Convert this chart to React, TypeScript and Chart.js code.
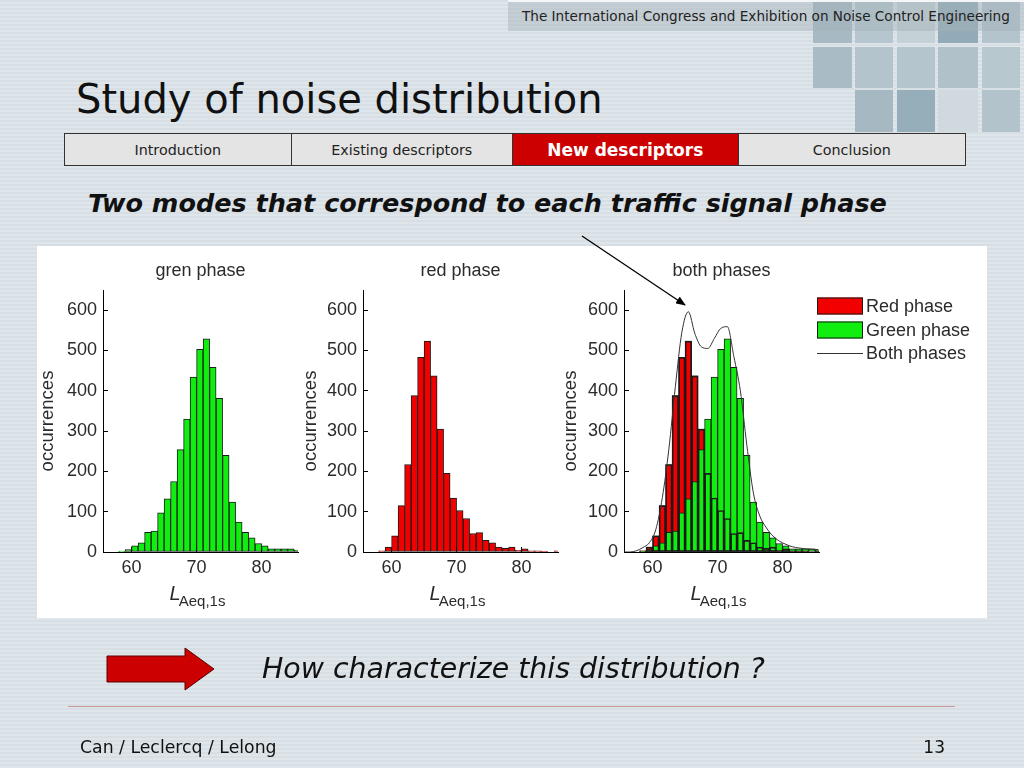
import React, { useEffect, useRef } from "react";
import { Chart, registerables } from "chart.js";

Chart.register(...registerables);

// ---------- data ----------
const BIN_CENTERS = [55.5, 56.5, 57.5, 58.5, 59.5, 60.5, 61.5, 62.5, 63.5, 64.5, 65.5, 66.5, 67.5, 68.5, 69.5, 70.5, 71.5, 72.5, 73.5, 74.5, 75.5, 76.5, 77.5, 78.5, 79.5, 80.5, 81.5, 82.5, 83.5, 84.5, 85.5];
const GREEN_COUNTS = [0, 0, 0, 2, 6, 15, 23, 49, 52, 97, 132, 175, 254, 330, 434, 503, 529, 458, 381, 240, 124, 74, 49, 35, 21, 15, 8, 8, 8, 8, 5];
const RED_COUNTS = [0, 0, 0, 3, 12, 40, 115, 217, 388, 483, 523, 437, 305, 195, 134, 103, 83, 46, 48, 29, 23, 12, 9, 12, 4, 8, 3, 3, 1, 0, 3];
const BOTH_COUNTS = [0, 0, 3, 11, 23, 56, 135, 255, 410, 545, 596, 542, 509, 505, 530, 555, 559, 485, 400, 265, 147, 89, 60, 40, 27, 19, 13, 10, 8, 7, 6];
const X_TICKS = [60, 70, 80];
const Y_TICKS = [0, 100, 200, 300, 400, 500, 600];
const X_MIN = 55.6;
const X_MAX = 85.6;
const Y_MAX = 650;
const PANEL_TITLES = ["gren phase", "red phase", "both phases"];
const LEGEND_LABELS = ["Red phase", "Green phase", "Both phases"];
const Y_TITLE = "occurrences";
const X_LABEL_MAIN = "L";
const X_LABEL_SUB = "Aeq,1s";

const NAV_ITEMS = ["Introduction", "Existing descriptors", "New descriptors", "Conclusion"];
const ACTIVE_NAV = 2;

// ---------- styles ----------
const RED = "#f20000";
const GREEN = "#10ee10";
const EDGE = "#1a1a1a";
const TEXT = "#2b2b2b";
const CHART_FONT = '"Liberation Sans", Arial, sans-serif';
const SLIDE_FONT = '"DejaVu Sans", Verdana, sans-serif';

Chart.defaults.font.family = CHART_FONT;

const xLabelPlugin = {
  id: "xLabel",
  afterDraw(chart: any) {
    const { ctx, chartArea } = chart;
    ctx.save();
    const mainFont = `italic 20px ${CHART_FONT}`;
    const subFont = `15px ${CHART_FONT}`;
    ctx.font = mainFont;
    const w1 = ctx.measureText(X_LABEL_MAIN).width;
    ctx.font = subFont;
    const w2 = ctx.measureText(X_LABEL_SUB).width;
    const cx = (chartArea.left + chartArea.right) / 2;
    const x0 = cx - (w1 + w2) / 2 - 2;
    ctx.fillStyle = TEXT;
    ctx.textBaseline = "alphabetic";
    ctx.textAlign = "left";
    ctx.font = mainFont;
    ctx.fillText(X_LABEL_MAIN, x0, chartArea.bottom + 48);
    ctx.font = subFont;
    ctx.fillText(X_LABEL_SUB, x0 + w1 - 2, chartArea.bottom + 54);
    ctx.restore();
  },
};

const sideLegendPlugin = {
  id: "sideLegend",
  afterDraw(chart: any, _args: any, opts: any) {
    if (!opts || !opts.show) return;
    const { ctx, chartArea } = chart;
    const x0 = chartArea.right - 2;
    const rows = [16, 40, 63];
    const fills = [RED, GREEN, null];
    ctx.save();
    ctx.font = `18px ${CHART_FONT}`;
    ctx.textBaseline = "middle";
    ctx.textAlign = "left";
    LEGEND_LABELS.forEach((label, i) => {
      const cy = chartArea.top + rows[i];
      const f = fills[i];
      if (f) {
        ctx.fillStyle = f;
        ctx.fillRect(x0, cy - 8.5, 46, 17);
        ctx.strokeStyle = EDGE;
        ctx.lineWidth = 1;
        ctx.strokeRect(x0 + 0.5, cy - 8, 45, 16);
      } else {
        ctx.strokeStyle = "#333";
        ctx.lineWidth = 1;
        ctx.beginPath();
        ctx.moveTo(x0, cy + 0.5);
        ctx.lineTo(x0 + 46, cy + 0.5);
        ctx.stroke();
      }
      ctx.fillStyle = TEXT;
      ctx.fillText(label, x0 + 49, cy + 1);
    });
    ctx.restore();
  },
};

function pts(values: number[]) {
  return BIN_CENTERS.map((x, i) => ({ x, y: values[i] }));
}

function buildOptions(title: string, yWidth: number, rightPad: number, showLegend: boolean) {
  return {
    responsive: false,
    animation: false,
    events: [],
    layout: { padding: { left: 0, right: rightPad, top: 0, bottom: 0 } },
    plugins: {
      legend: { display: false },
      tooltip: { enabled: false },
      sideLegend: { show: showLegend },
      title: {
        display: true,
        text: title,
        fullSize: false,
        color: TEXT,
        font: { size: 18, weight: "normal", family: CHART_FONT },
        padding: { top: 14.2, bottom: 8.2 },
      },
    },
    scales: {
      x: {
        type: "linear",
        min: X_MIN,
        max: X_MAX,
        offset: false,
        afterBuildTicks: (s: any) => {
          s.ticks = X_TICKS.map((v) => ({ value: v }));
        },
        afterFit: (s: any) => {
          s.height = 66;
        },
        grid: { display: true, offset: false, drawOnChartArea: false, drawTicks: true, tickLength: -5, color: "#000", lineWidth: 1 },
        border: { display: true, color: "#000", width: 1 },
        ticks: { color: TEXT, font: { size: 18 }, padding: 10, maxRotation: 0, autoSkip: false },
      },
      y: {
        type: "linear",
        min: 0,
        max: Y_MAX,
        afterBuildTicks: (s: any) => {
          s.ticks = Y_TICKS.map((v) => ({ value: v }));
        },
        afterFit: (s: any) => {
          s.width = yWidth;
        },
        grid: { display: true, drawOnChartArea: false, drawTicks: true, tickLength: -5, color: "#000", lineWidth: 1 },
        border: { display: true, color: "#000", width: 1 },
        ticks: { color: TEXT, font: { size: 18 }, padding: 11, autoSkip: false },
        title: { display: true, text: Y_TITLE, color: TEXT, font: { size: 18.5 }, padding: { top: 0, bottom: 0 } },
      },
    },
  };
}

const barBase = {
  type: "bar",
  borderColor: EDGE,
  borderWidth: 1,
  borderSkipped: false,
  barPercentage: 1,
  categoryPercentage: 1,
  grouped: false,
};

function HistPanel(props: { kind: "green" | "red" | "both"; left: number; width: number; yWidth: number; rightPad: number }) {
  const ref = useRef<HTMLCanvasElement | null>(null);
  useEffect(() => {
    if (!ref.current) return;
    let datasets: any[] = [];
    let title = "";
    if (props.kind === "green") {
      title = PANEL_TITLES[0];
      datasets = [{ ...barBase, data: pts(GREEN_COUNTS), backgroundColor: GREEN }];
    } else if (props.kind === "red") {
      title = PANEL_TITLES[1];
      datasets = [{ ...barBase, data: pts(RED_COUNTS), backgroundColor: RED }];
    } else {
      title = PANEL_TITLES[2];
      datasets = [
        { ...barBase, data: pts(RED_COUNTS), backgroundColor: RED, order: 4 },
        { ...barBase, data: pts(GREEN_COUNTS), backgroundColor: GREEN, order: 3 },
        { ...barBase, data: pts(RED_COUNTS), backgroundColor: "rgba(0,0,0,0)", order: 2 },
        {
          type: "line",
          data: pts(BOTH_COUNTS),
          borderColor: "#333",
          borderWidth: 1,
          pointRadius: 0,
          cubicInterpolationMode: "monotone",
          fill: false,
          order: 1,
        },
      ];
    }
    const chart = new Chart(ref.current, {
      type: "bar",
      data: { datasets },
      options: buildOptions(title, props.yWidth, props.rightPad, props.kind === "both") as any,
      plugins: [xLabelPlugin, sideLegendPlugin],
    } as any);
    return () => chart.destroy();
  }, []);
  return (
    <canvas
      ref={ref}
      width={props.width}
      height={372}
      style={{ position: "absolute", left: props.left, top: 246, width: props.width, height: 372 }}
    />
  );
}

const SQUARES: [number, number, number, number, string][] = [
  [813, 0, 39, 43, "#a7b9c3"],
  [855, 0, 38, 43, "#b5c6ce"],
  [897, 0, 38, 43, "#c4d1d7"],
  [938, 0, 40, 43, "#93abb8"],
  [982, 0, 38, 43, "#b3c4cc"],
  [813, 47, 39, 41, "#a9bbc4"],
  [855, 47, 38, 41, "#b3c4cc"],
  [897, 47, 38, 41, "#b4c5cd"],
  [938, 47, 40, 41, "#b0c1ca"],
  [982, 47, 38, 41, "#b8c8cf"],
  [855, 90, 38, 42, "#a6b8c2"],
  [897, 90, 38, 42, "#96adba"],
  [938, 90, 40, 42, "#cfd9de"],
  [982, 90, 38, 42, "#b2c3cb"],
];

export default function App() {
  useEffect(() => {
    document.body.style.margin = "0";
  }, []);
  const abs = (s: any) => ({ position: "absolute" as const, ...s });
  return (
    <div
      style={{
        position: "fixed",
        left: 0,
        top: 0,
        width: 1024,
        height: 768,
        overflow: "hidden",
        fontFamily: SLIDE_FONT,
        background: "repeating-linear-gradient(180deg, #d7dfe5 0px, #d7dfe5 2px, #dfe6eb 2px, #dfe6eb 4px)",
      }}
    >
      {SQUARES.map(([x, y, w, h, c], i) => (
        <div key={i} style={abs({ left: x, top: y, width: w, height: h, background: c })} />
      ))}
      <div style={abs({ left: 508, top: 0, width: 516, height: 2, background: "#f4f6f7" })} />
      <div
        style={abs({
          left: 508,
          top: 2,
          width: 516,
          height: 29,
          background: "rgba(165,178,185,0.45)",
          fontSize: 13.6,
          lineHeight: "29px",
          color: "#222",
          paddingLeft: 14,
          boxSizing: "border-box",
          whiteSpace: "nowrap",
        })}
      >
        The International Congress and Exhibition on Noise Control Engineering
      </div>
      <div style={abs({ left: 76, top: 79, fontSize: 40, lineHeight: "40px", color: "#111", whiteSpace: "nowrap" })}>
        Study of noise distribution
      </div>
      <div
        style={abs({
          left: 64,
          top: 133,
          width: 902,
          height: 33,
          display: "flex",
          border: "1px solid #333",
          boxSizing: "border-box",
        })}
      >
        {NAV_ITEMS.map((t, i) => (
          <div
            key={t}
            style={{
              width: [226, 222, 226, 228][i],
              height: "100%",
              boxSizing: "border-box",
              borderLeft: i === 0 ? "none" : "1px solid #333",
              background: i === ACTIVE_NAV ? "#cc0000" : "#e4e4e4",
              color: i === ACTIVE_NAV ? "#fff" : "#222",
              fontWeight: i === ACTIVE_NAV ? "bold" : "normal",
              fontSize: i === ACTIVE_NAV ? 17 : 14.3,
              display: "flex",
              alignItems: "center",
              justifyContent: "center",
              whiteSpace: "nowrap",
            }}
          >
            {t}
          </div>
        ))}
      </div>
      <div
        style={abs({
          left: 88,
          top: 191,
          fontSize: 25.5,
          lineHeight: "25.5px",
          fontWeight: "bold",
          fontStyle: "italic",
          color: "#111",
          whiteSpace: "nowrap",
        })}
      >
        Two modes that correspond to each traffic signal phase
      </div>
      <div style={abs({ left: 37, top: 246, width: 950, height: 372, background: "#fff" })} />
      <HistPanel kind="green" left={37} width={263} yWidth={66} rightPad={2} />
      <HistPanel kind="red" left={300} width={260} yWidth={63} rightPad={2} />
      <HistPanel kind="both" left={560} width={427} yWidth={64} rightPad={168} />
      <svg width={1024} height={768} style={abs({ left: 0, top: 0, pointerEvents: "none" })}>
        <defs>
          <marker id="ah" markerWidth="10" markerHeight="8" refX="9" refY="4" orient="auto" markerUnits="userSpaceOnUse">
            <path d="M0,0 L10,4 L0,8 z" fill="#000" />
          </marker>
        </defs>
        <line x1={582} y1={236} x2={685} y2={305} stroke="#000" strokeWidth={1.3} markerEnd="url(#ah)" />
        <polygon
          points="107,656 185,656 185,648 214,669 185,690 185,682 107,682"
          fill="#cc0000"
          stroke="#5a0000"
          strokeWidth={1}
        />
        <line x1={68} y1={706.5} x2={955} y2={706.5} stroke="#c89a9a" strokeWidth={1} />
      </svg>
      <div
        style={abs({ left: 262, top: 655, fontSize: 28.4, lineHeight: "28px", fontStyle: "italic", color: "#111", whiteSpace: "nowrap" })}
      >
        How characterize this distribution ?
      </div>
      <div style={abs({ left: 80, top: 739, fontSize: 17.3, lineHeight: "17px", color: "#111", whiteSpace: "nowrap" })}>
        Can / Leclercq / Lelong
      </div>
      <div style={abs({ left: 905, width: 40, textAlign: "right", top: 739, fontSize: 17, lineHeight: "17px", color: "#111" })}>
        13
      </div>
    </div>
  );
}
